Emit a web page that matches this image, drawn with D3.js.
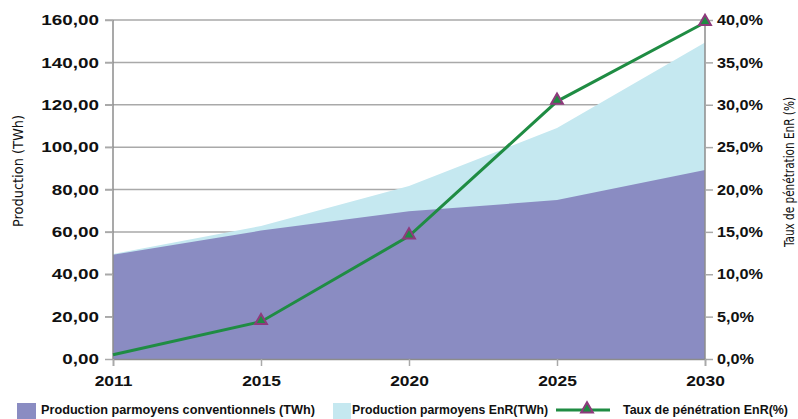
<!DOCTYPE html>
<html>
<head>
<meta charset="utf-8">
<script src="https://cdn.jsdelivr.net/npm/d3@7"></script>
<style>
  body { margin: 0; background: #fff; }
  svg text { font-family: "Liberation Sans", Arial, sans-serif; }
</style>
</head>
<body>
<div id="vis"></div>
<script>
// data
let years = ["2011", "2015", "2020", "2025", "2030"]
let conventional = [49.2, 60.6, 69.7, 75.0, 89.2]
let totalProduction = [49.6, 62.8, 81.6, 109.0, 149.4]
let penetration = [0.5, 4.4, 14.5, 30.4, 39.7]
let leftTicks = [0, 20, 40, 60, 80, 100, 120, 140, 160]
let rightTicks = [0, 5, 10, 15, 20, 25, 30, 35, 40]

let svgWidth = 798
let svgHeight = 419

let margin = { left: 113, right: 93, top: 20, bottom: 60 }
let width = svgWidth - margin.left - margin.right
let height = svgHeight - margin.top - margin.bottom

let svg = d3.select('#vis')
    .append('svg')
    .attr('width', svgWidth)
    .attr('height', svgHeight)

let g = svg.append('g')
    .attr('transform', `translate(${margin.left},${margin.top})`)

// scales
let xScale = d3.scalePoint()
    .domain(years)
    .range([0, width])

let yScale = d3.scaleLinear()
    .domain([0, 160])
    .range([height, 0])

let y2Scale = d3.scaleLinear()
    .domain([0, 40])
    .range([height, 0])

let fmt2 = d3.format('.2f')
let fmt1 = d3.format('.1f')

// stretch text horizontally (reference font is wide)
function stretch(sel, k) {
    sel.each(function() {
        let w = this.getComputedTextLength()
        d3.select(this)
            .attr('textLength', w * k)
            .attr('lengthAdjust', 'spacingAndGlyphs')
    })
}
// fit text to a width
function fit(sel, w) {
    sel.attr('textLength', w).attr('lengthAdjust', 'spacingAndGlyphs')
}

// gridlines
g.append('g')
    .selectAll('line')
    .data(leftTicks.filter(d => d > 0))
    .join('line')
        .attr('x1', -8)
        .attr('x2', width)
        .attr('y1', d => yScale(d))
        .attr('y2', d => yScale(d))
        .attr('stroke', '#a9a9a9')
        .attr('stroke-width', 1.5)

// areas
let data = years.map((y, i) => ({
    year: y, conv: conventional[i], total: totalProduction[i], rate: penetration[i]
}))

g.append('path')
    .datum(data)
    .attr('fill', '#c5e8f0')
    .attr('d', d3.area()
        .x(d => xScale(d.year))
        .y0(height)
        .y1(d => yScale(d.total)))

g.append('path')
    .datum(data)
    .attr('fill', '#8a8cc2')
    .attr('d', d3.area()
        .x(d => xScale(d.year))
        .y0(height)
        .y1(d => yScale(d.conv)))

// axes
let leftAxis = d3.axisLeft(yScale)
    .tickValues(leftTicks)
    .tickSize(8)
    .tickPadding(6)
    .tickFormat(d => fmt2(d).replace('.', ','))

let rightAxis = d3.axisRight(y2Scale)
    .tickValues(rightTicks)
    .tickSize(8)
    .tickPadding(4)
    .tickFormat(d => fmt1(d).replace('.', ',') + '%')

let bottomAxis = d3.axisBottom(xScale)
    .tickSize(7)
    .tickPadding(10)

function styleAxis(sel) {
    sel.select('.domain').attr('stroke', '#8c8c8c').attr('stroke-width', 1.5)
    sel.selectAll('.tick line').attr('stroke', '#a9a9a9').attr('stroke-width', 1.5)
    sel.selectAll('.tick text')
        .attr('fill', '#111')
        .style('font-size', '14.5px')
        .style('font-weight', 'bold')
}

g.append('g')
    .attr('id', 'y-axis')
    .call(leftAxis)
    .call(styleAxis)
    .call(s => stretch(s.selectAll('.tick text'), 1.3))

g.append('g')
    .attr('id', 'y2-axis')
    .attr('transform', `translate(${width},0)`)
    .call(rightAxis)
    .call(styleAxis)
    .call(s => stretch(s.selectAll('.tick text'), 1.12))

g.append('g')
    .attr('id', 'x-axis')
    .attr('transform', `translate(0,${height})`)
    .call(bottomAxis)
    .call(styleAxis)
    .call(s => stretch(s.selectAll('.tick text'), 1.2))

// plain vertical axis lines (no outer ticks)
d3.selectAll('#y-axis .domain, #y2-axis .domain').attr('d', `M0,0V${height}`)

// line
g.append('path')
    .datum(data)
    .attr('fill', 'none')
    .attr('stroke', '#1f8c43')
    .attr('stroke-width', 3)
    .attr('d', d3.line()
        .x(d => xScale(d.year))
        .y(d => y2Scale(d.rate)))

let tri = d3.symbol().type(d3.symbolTriangle).size(60)

g.selectAll('.marker')
    .data(data.slice(1))
    .join('path')
        .attr('class', 'marker')
        .attr('d', tri)
        .attr('transform', d => `translate(${xScale(d.year)},${y2Scale(d.rate) - 1})`)
        .attr('fill', '#1f8c43')
        .attr('stroke', '#8e3a7c')
        .attr('stroke-width', 2)

// axis titles
let condensed = '"Liberation Sans Narrow", "DejaVu Sans Condensed", "Liberation Sans", sans-serif'

svg.append('text')
    .attr('transform', 'translate(23,171) rotate(-90)')
    .attr('text-anchor', 'middle')
    .style('font-family', condensed)
    .style('font-size', '14px')
    .attr('fill', '#111')
    .text('Production (TWh)')
    .call(fit, 112)

svg.append('text')
    .attr('transform', 'translate(794,172) rotate(-90)')
    .attr('text-anchor', 'middle')
    .style('font-family', condensed)
    .style('font-size', '14.5px')
    .attr('fill', '#111')
    .text('Taux de pénétration EnR (%)')
    .call(fit, 150)

// legend
let legend = svg.append('g')
    .style('font-family', condensed)
    .style('font-size', '13px')
    .style('font-weight', 'bold')
    .attr('fill', '#111')

legend.append('rect').attr('x', 17).attr('y', 403).attr('width', 19).attr('height', 16).attr('fill', '#8a8cc2')
legend.append('text').attr('x', 41).attr('y', 414).text('Production parmoyens conventionnels (TWh)').call(fit, 274)

legend.append('rect').attr('x', 333).attr('y', 403).attr('width', 18).attr('height', 16).attr('fill', '#c5e8f0')
legend.append('text').attr('x', 352).attr('y', 414).text('Production parmoyens EnR(TWh)').call(fit, 196)

legend.append('line').attr('x1', 556).attr('x2', 610).attr('y1', 410).attr('y2', 410)
    .attr('stroke', '#1f8c43').attr('stroke-width', 3)
legend.append('path').attr('d', tri).attr('transform', 'translate(587,409)')
    .attr('fill', '#1f8c43').attr('stroke', '#8e3a7c').attr('stroke-width', 2)
legend.append('text').attr('x', 623).attr('y', 414).text('Taux de pénétration EnR(%)').call(fit, 165)
</script>
</body>
</html>
